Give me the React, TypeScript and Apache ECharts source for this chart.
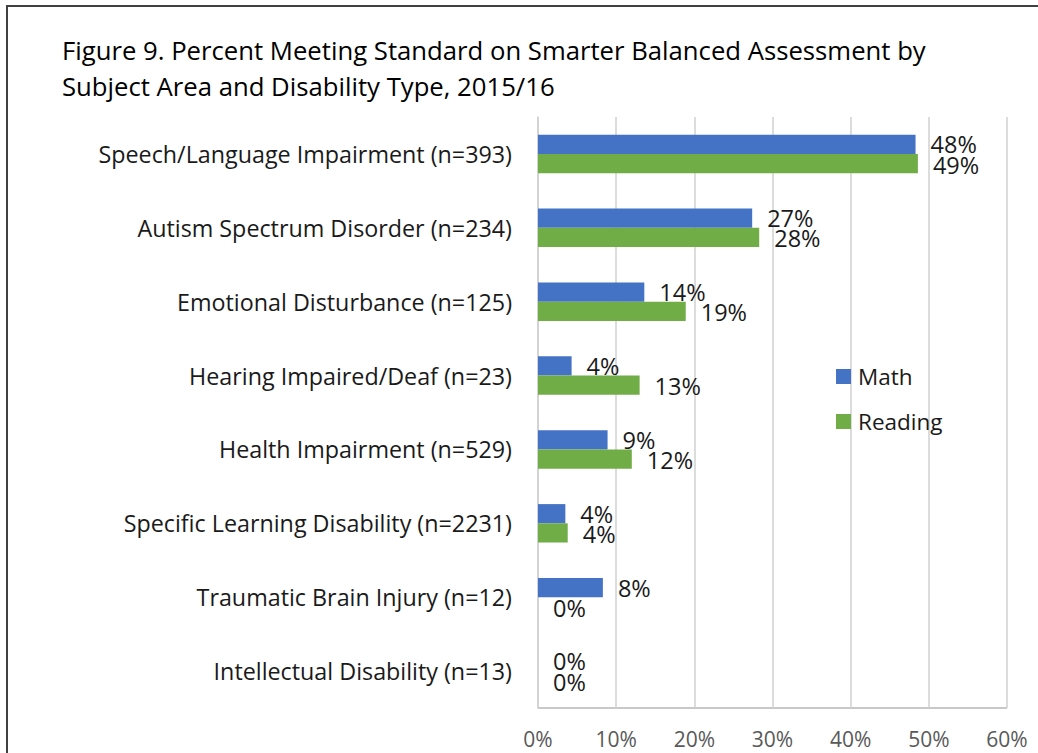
import React, { useEffect, useRef } from "react";
import * as echarts from "echarts";

const categories = [
  "Speech/Language Impairment (n=393)",
  "Autism Spectrum Disorder (n=234)",
  "Emotional Disturbance (n=125)",
  "Hearing Impaired/Deaf (n=23)",
  "Health Impairment (n=529)",
  "Specific Learning Disability (n=2231)",
  "Traumatic Brain Injury (n=12)",
  "Intellectual Disability (n=13)",
];
const mathValues = [48.3, 27.4, 13.6, 4.3, 8.9, 3.5, 8.3, 0];
const readingValues = [48.6, 28.3, 18.9, 13.0, 12.0, 3.8, 0, 0];
const xTicks = [0, 10, 20, 30, 40, 50, 60];

const FONT = "'Open Sans', sans-serif";

export default function App() {
  const ref = useRef<HTMLDivElement>(null);
  useEffect(() => {
    const chart = echarts.init(ref.current!, null, { renderer: "svg" });
    const labelCfg = (dy: number) => ({
      show: true,
      position: "right",
      distance: 15,
      offset: [0, dy],
      fontFamily: FONT,
      fontSize: 23.5,
      color: "#1a1a1a",
      formatter: (p: any) => Math.round(p.value) + "%",
    });
    chart.setOption({
      animation: false,
      textStyle: { fontFamily: FONT },
      title: {
        text:
          "Figure 9. Percent Meeting Standard on Smarter Balanced Assessment by\nSubject Area and Disability Type, 2015/16",
        left: 57,
        top: 27,
        textStyle: {
          fontFamily: FONT,
          fontSize: 25.7,
          fontWeight: "normal",
          color: "#000",
          lineHeight: 36,
        },
      },
      graphic: [
        {
          type: "rect",
          shape: { x: 7, y: 6, width: 1060, height: 780 },
          style: { fill: "none", stroke: "#404040", lineWidth: 2 },
          silent: true,
        },
        {
          type: "line",
          shape: { x1: 538, y1: 708, x2: 1007, y2: 708 },
          style: { stroke: "#c8c8c8", lineWidth: 2 },
          silent: true,
        },
      ],
      legend: {
        orient: "vertical",
        left: 831,
        top: 360,
        itemWidth: 15,
        itemHeight: 15,
        itemGap: 22,
        icon: "rect",
        textStyle: { fontFamily: FONT, fontSize: 22.5, color: "#1a1a1a", padding: [0, 0, 0, 2] },
        data: ["Math", "Reading"],
      },
      grid: { left: 538, right: 31, top: 117, bottom: 45, containLabel: false },
      xAxis: {
        type: "value",
        min: xTicks[0],
        max: xTicks[xTicks.length - 1],
        interval: 10,
        axisLine: { show: false },
        axisTick: { show: false },
        splitLine: { show: true, lineStyle: { color: "#d0d0d0", width: 1.5 } },
        axisLabel: {
          formatter: (v: number) => v + "%",
          fontFamily: FONT,
          fontSize: 21,
          color: "#595959",
          margin: 20,
        },
      },
      yAxis: {
        type: "category",
        data: categories,
        inverse: true,
        axisLine: { show: true, lineStyle: { color: "#d0d0d0", width: 1.5 } },
        axisTick: { show: false },
        axisLabel: {
          fontFamily: FONT,
          fontSize: 23.3,
          color: "#1a1a1a",
          margin: 26,
        },
      },
      series: [
        {
          name: "Math",
          type: "bar",
          data: mathValues,
          itemStyle: { color: "#4472c4" },
          barGap: "0%",
          barCategoryGap: "48%",
          label: labelCfg(0),
        },
        {
          name: "Reading",
          type: "bar",
          data: readingValues,
          itemStyle: { color: "#70ad47" },
          barGap: "0%",
          barCategoryGap: "48%",
          label: labelCfg(1),
        },
      ],
    });
    return () => chart.dispose();
  }, []);
  return (
    <div
      ref={ref}
      style={{ position: "fixed", left: 0, top: 0, width: 1038, height: 753, background: "#fff" }}
    />
  );
}
